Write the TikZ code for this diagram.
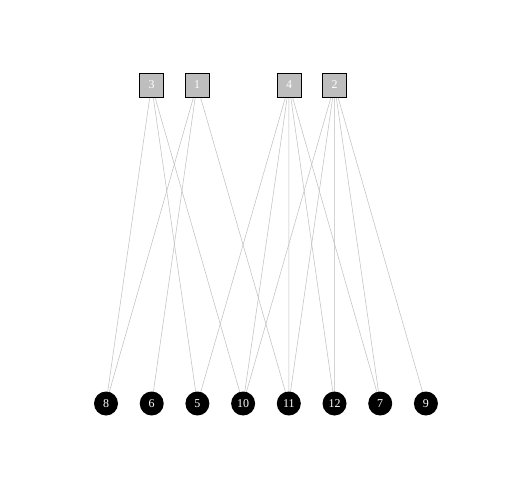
\documentclass[tikz,border=0pt]{standalone}
\usepackage{fontspec}
\setmainfont{Liberation Serif}
\usepackage{tikz}
\usetikzlibrary{backgrounds}
\definecolor{edgegray}{HTML}{BEBEBE}

\begin{document}
\begin{tikzpicture}[x=1bp,y=-1bp,font=\fontsize{12}{14}\selectfont,
  top/.style={draw=black,fill=edgegray,text=white,minimum size=24bp,inner sep=0pt,line width=0.5pt},
  bot/.style={circle,fill=black,text=white,minimum size=24bp,inner sep=0pt},
  edge/.style={draw=edgegray,line width=0.5pt}]
% top row
\node[top] (t3) at (151.5,85) {3};
\node[top] (t1) at (197,85) {1};
\node[top] (t4) at (289,85) {4};
\node[top] (t2) at (334.5,85) {2};
% bottom row
\foreach \lab [count=\i from 0] in {8,6,5,10,11,12,7,9}
  \node[bot] (b\lab) at (106+45.7*\i,403.5) {\lab};
% edges
\begin{scope}[on background layer]
\fill[white] (0,0) rectangle (504,504);
\foreach \a/\b in {t3/b8,t3/b5,t3/b10,t1/b8,t1/b6,t1/b11,
  t4/b5,t4/b10,t4/b11,t4/b12,t4/b7,
  t2/b10,t2/b11,t2/b12,t2/b7,t2/b9}
  \draw[edge] (\a.center) -- (\b.center);
\end{scope}
\end{tikzpicture}
\end{document}
